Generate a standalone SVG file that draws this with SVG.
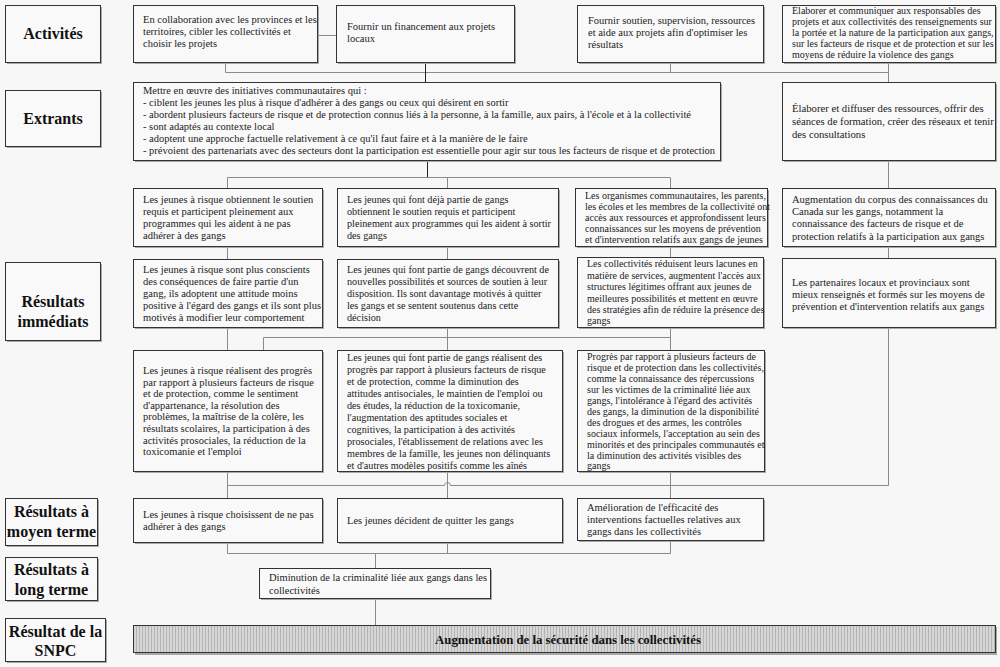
<svg xmlns="http://www.w3.org/2000/svg" width="1000" height="667" viewBox="0 0 1000 667">
<defs>
<style>
.bg{fill:#f7f7f7}
.sh{fill:#a8a8a8}
.bx{fill:#f9f9f9;stroke:#333;stroke-width:1}
.t{font-family:"Liberation Serif","Times New Roman",serif;font-size:10.5px;fill:#222}
.s10{font-size:10px}
.s102{font-size:10.2px}
.s107{font-size:10.7px}
.lb{font-family:"Liberation Serif","Times New Roman",serif;font-size:16px;font-weight:bold;text-anchor:middle;fill:#111}
.c{stroke:#8a8a8a;stroke-width:1;fill:none}
.cd{stroke:#222;stroke-width:1;fill:none}
.bt{font-family:"Liberation Serif","Times New Roman",serif;font-size:12.8px;font-weight:bold;text-anchor:middle;fill:#111}
</style>
<pattern id="hatch" width="3" height="4" patternUnits="userSpaceOnUse">
<rect width="3" height="4" fill="#d6d6d6"/>
<line x1="1.5" y1="0" x2="1.5" y2="4" stroke="#b4b4b4" stroke-width="1"/>
</pattern>
</defs>
<rect class="bg" x="0" y="0" width="1000" height="667"/>

<g id="connectors">
<path class="c" d="M317 35.5H336"/>
<path class="c" d="M225.5 62V72.5H888.5"/>
<path class="cd" d="M425.5 62V82"/>
<path class="c" d="M670.5 62V72.5"/>
<path class="c" d="M888.5 62V82"/>
<path class="cd" d="M427.5 160V177.5"/>
<path class="c" d="M227.5 177.5H670.5"/>
<path class="c" d="M227.5 177.5V188M447.5 177.5V188M670.5 177.5V188"/>
<path class="c" d="M888.5 160V188"/>
<path class="c" d="M227.5 246V259M447.5 246V259M670.5 246V257M888.5 246V258"/>
<path class="c" d="M227.5 327V350M447.5 327V350M670.5 327V350"/>
<path class="c" d="M670.5 337.5H263.5V350"/>
<path class="c" d="M888.5 327V485.5H670.5"/>
<path class="c" d="M227.5 471V485.5H444.5A3 3 0 0 1 450.5 485.5H670.5"/>
<path class="c" d="M227.5 485.5V498"/>
<path class="c" d="M447.5 471V498"/>
<path class="c" d="M670.5 471V498"/>
<path class="c" d="M227.5 542V553.5H670.5M447.5 542V553.5M670.5 540V553.5"/>
<path class="c" d="M375.5 553.5V568"/>
<path class="c" d="M375.5 598V625"/>
</g>

<g id="lbl-activites">
<rect class="sh" x="7" y="7" width="95" height="57"/>
<rect class="bx" x="5.5" y="5.5" width="95" height="57"/>
<text class="lb" x="53" y="39">Activités</text>
</g>
<g id="lbl-extrants">
<rect class="sh" x="7" y="92" width="95" height="56"/>
<rect class="bx" x="5.5" y="90.5" width="95" height="56"/>
<text class="lb" x="53" y="124">Extrants</text>
</g>
<g id="lbl-immediats">
<rect class="sh" x="7" y="264" width="95" height="78"/>
<rect class="bx" x="5.5" y="262.5" width="95" height="78"/>
<text class="lb" x="53" y="307">Résultats</text>
<text class="lb" x="53" y="327">immédiats</text>
</g>
<g id="lbl-moyen">
<rect class="sh" x="7" y="500" width="92" height="47"/>
<rect class="bx" x="5.5" y="498.5" width="92" height="47"/>
<text class="lb" x="51.5" y="517">Résultats à</text>
<text class="lb" x="51.5" y="537">moyen terme</text>
</g>
<g id="lbl-long">
<rect class="sh" x="7" y="559" width="92" height="43"/>
<rect class="bx" x="5.5" y="557.5" width="92" height="43"/>
<text class="lb" x="51.5" y="575">Résultats à</text>
<text class="lb" x="51.5" y="595">long terme</text>
</g>
<g id="lbl-snpc">
<rect class="sh" x="7" y="620" width="100" height="43"/>
<rect class="bx" x="5.5" y="618.5" width="100" height="43"/>
<text class="lb" x="55.5" y="637">Résultat de la</text>
<text class="lb" x="55.5" y="656">SNPC</text>
</g>

<g id="a1">
<rect class="sh" x="135" y="7" width="184" height="57"/>
<rect class="bx" x="133.5" y="5.5" width="184" height="57"/>
<text class="t"><tspan x="143" y="23">En collaboration avec les provinces et les</tspan><tspan x="143" y="35">territoires, cibler les collectivités et</tspan><tspan x="143" y="47">choisir les projets</tspan></text>
</g>
<g id="a2">
<rect class="sh" x="338" y="7" width="178" height="57"/>
<rect class="bx" x="336.5" y="5.5" width="178" height="57"/>
<text class="t"><tspan x="347" y="30">Fournir un financement aux projets</tspan><tspan x="347" y="42">locaux</tspan></text>
</g>
<g id="a3">
<rect class="sh" x="579" y="7" width="186" height="57"/>
<rect class="bx" x="577.5" y="5.5" width="186" height="57"/>
<text class="t"><tspan x="588" y="24">Fournir soutien, supervision, ressources</tspan><tspan x="588" y="36">et aide aux projets afin d'optimiser les</tspan><tspan x="588" y="48">résultats</tspan></text>
</g>
<g id="a4">
<rect class="sh" x="784" y="7" width="213" height="57"/>
<rect class="bx" x="782.5" y="5.5" width="213" height="57"/>
<text class="t s10"><tspan x="792" y="14">Élaborer et communiquer aux responsables des</tspan><tspan x="792" y="25">projets et aux collectivités des renseignements sur</tspan><tspan x="792" y="36">la portée et la nature de la participation aux gangs,</tspan><tspan x="792" y="47">sur les facteurs de risque et de protection et sur les</tspan><tspan x="792" y="58">moyens de réduire la violence des gangs</tspan></text>
</g>

<g id="e1">
<rect class="sh" x="135" y="84" width="587" height="78"/>
<rect class="bx" x="133.5" y="82.5" width="587" height="78"/>
<text class="t"><tspan x="143" y="94">Mettre en œuvre des initiatives communautaires qui :</tspan><tspan x="143" y="106">- ciblent les jeunes les plus à risque d'adhérer à des gangs ou ceux qui désirent en sortir</tspan><tspan x="143" y="118">- abordent plusieurs facteurs de risque et de protection connus liés à la personne, à la famille, aux pairs, à l'école et à la collectivité</tspan><tspan x="143" y="130">- sont adaptés au contexte local</tspan><tspan x="143" y="142">- adoptent une approche factuelle relativement à ce qu'il faut faire et à la manière de le faire</tspan><tspan x="143" y="154">- prévoient des partenariats avec des secteurs dont la participation est essentielle pour agir sur tous les facteurs de risque et de protection</tspan></text>
</g>
<g id="e2">
<rect class="sh" x="784" y="84" width="213" height="78"/>
<rect class="bx" x="782.5" y="82.5" width="213" height="78"/>
<text class="t s107"><tspan x="792" y="112">Élaborer et diffuser des ressources, offrir des</tspan><tspan x="792" y="125">séances de formation, créer des réseaux et tenir</tspan><tspan x="792" y="138">des consultations</tspan></text>
</g>

<g id="r1a">
<rect class="sh" x="135" y="190" width="189" height="58"/>
<rect class="bx" x="133.5" y="188.5" width="189" height="58"/>
<text class="t"><tspan x="143" y="203">Les jeunes à risque obtiennent le soutien</tspan><tspan x="143" y="215">requis et participent pleinement aux</tspan><tspan x="143" y="227">programmes qui les aident à ne pas</tspan><tspan x="143" y="239">adhérer à des gangs</tspan></text>
</g>
<g id="r1b">
<rect class="sh" x="339" y="190" width="221" height="58"/>
<rect class="bx" x="337.5" y="188.5" width="221" height="58"/>
<text class="t s102"><tspan x="347" y="203">Les jeunes qui font déjà partie de gangs</tspan><tspan x="347" y="215">obtiennent le soutien requis et participent</tspan><tspan x="347" y="227">pleinement aux programmes qui les aident à sortir</tspan><tspan x="347" y="239">des gangs</tspan></text>
</g>
<g id="r1c">
<rect class="sh" x="577" y="190" width="192" height="58"/>
<rect class="bx" x="575.5" y="188.5" width="192" height="58"/>
<text class="t s10"><tspan x="585" y="199">Les organismes communautaires, les parents,</tspan><tspan x="585" y="210">les écoles et les membres de la collectivité ont</tspan><tspan x="585" y="221">accès aux ressources et approfondissent leurs</tspan><tspan x="585" y="232">connaissances sur les moyens de prévention</tspan><tspan x="585" y="243">et d'intervention relatifs aux gangs de jeunes</tspan></text>
</g>
<g id="r1d">
<rect class="sh" x="784" y="190" width="213" height="58"/>
<rect class="bx" x="782.5" y="188.5" width="213" height="58"/>
<text class="t"><tspan x="792" y="203">Augmentation du corpus des connaissances du</tspan><tspan x="792" y="215">Canada sur les gangs, notamment la</tspan><tspan x="792" y="227">connaissance des facteurs de risque et de</tspan><tspan x="792" y="240">protection relatifs à la participation aux gangs</tspan></text>
</g>

<g id="r2a">
<rect class="sh" x="135" y="261" width="189" height="68"/>
<rect class="bx" x="133.5" y="259.5" width="189" height="68"/>
<text class="t"><tspan x="143" y="273">Les jeunes à risque sont plus conscients</tspan><tspan x="143" y="285">des conséquences de faire partie d'un</tspan><tspan x="143" y="297">gang, ils adoptent une attitude moins</tspan><tspan x="143" y="309">positive à l'égard des gangs et ils sont plus</tspan><tspan x="143" y="321">motivés à modifier leur comportement</tspan></text>
</g>
<g id="r2b">
<rect class="sh" x="339" y="261" width="221" height="68"/>
<rect class="bx" x="337.5" y="259.5" width="221" height="68"/>
<text class="t s102"><tspan x="347" y="273">Les jeunes qui font partie de gangs découvrent de</tspan><tspan x="347" y="285">nouvelles possibilités et sources de soutien à leur</tspan><tspan x="347" y="297">disposition. Ils sont davantage motivés à quitter</tspan><tspan x="347" y="309">les gangs et se sentent soutenus dans cette</tspan><tspan x="347" y="321">décision</tspan></text>
</g>
<g id="r2c">
<rect class="sh" x="579" y="259" width="186" height="70"/>
<rect class="bx" x="577.5" y="257.5" width="186" height="70"/>
<text class="t s10"><tspan x="587" y="267">Les collectivités réduisent leurs lacunes en</tspan><tspan x="587" y="279">matière de services, augmentent l'accès aux</tspan><tspan x="587" y="290">structures légitimes offrant aux jeunes de</tspan><tspan x="587" y="302">meilleures possibilités et mettent en œuvre</tspan><tspan x="587" y="313">des stratégies afin de réduire la présence des</tspan><tspan x="587" y="324">gangs</tspan></text>
</g>
<g id="r2d">
<rect class="sh" x="784" y="260" width="213" height="69"/>
<rect class="bx" x="782.5" y="258.5" width="213" height="69"/>
<text class="t"><tspan x="792" y="286">Les partenaires locaux et provinciaux sont</tspan><tspan x="792" y="298">mieux renseignés et formés sur les moyens de</tspan><tspan x="792" y="310">prévention et d'intervention relatifs aux gangs</tspan></text>
</g>

<g id="r3a">
<rect class="sh" x="135" y="352" width="189" height="121"/>
<rect class="bx" x="133.5" y="350.5" width="189" height="121"/>
<text class="t"><tspan x="143" y="374">Les jeunes à risque réalisent des progrès</tspan><tspan x="143" y="386">par rapport à plusieurs facteurs de risque</tspan><tspan x="143" y="397">et de protection, comme le sentiment</tspan><tspan x="143" y="409">d'appartenance, la résolution des</tspan><tspan x="143" y="420">problèmes, la maîtrise de la colère, les</tspan><tspan x="143" y="432">résultats scolaires, la participation à des</tspan><tspan x="143" y="444">activités prosociales, la réduction de la</tspan><tspan x="143" y="455">toxicomanie et l'emploi</tspan></text>
</g>
<g id="r3b">
<rect class="sh" x="339" y="352" width="225" height="121"/>
<rect class="bx" x="337.5" y="350.5" width="225" height="121"/>
<text class="t s102"><tspan x="347" y="361">Les jeunes qui font partie de gangs réalisent des</tspan><tspan x="347" y="373">progrès par rapport à plusieurs facteurs de risque</tspan><tspan x="347" y="385">et de protection, comme la diminution des</tspan><tspan x="347" y="397">attitudes antisociales, le maintien de l'emploi ou</tspan><tspan x="347" y="409">des études, la réduction de la toxicomanie,</tspan><tspan x="347" y="421">l'augmentation des aptitudes sociales et</tspan><tspan x="347" y="433">cognitives, la participation à des activités</tspan><tspan x="347" y="445">prosociales, l'établissement de relations avec les</tspan><tspan x="347" y="457">membres de la famille, les jeunes non délinquants</tspan><tspan x="347" y="469">et d'autres modèles positifs comme les aînés</tspan></text>
</g>
<g id="r3c">
<rect class="sh" x="579" y="352" width="187" height="121"/>
<rect class="bx" x="577.5" y="350.5" width="187" height="121"/>
<text class="t s10"><tspan x="587" y="360">Progrès par rapport à plusieurs facteurs de</tspan><tspan x="587" y="371">risque et de protection dans les collectivités,</tspan><tspan x="587" y="382">comme la connaissance des répercussions</tspan><tspan x="587" y="393">sur les victimes de la criminalité liée aux</tspan><tspan x="587" y="404">gangs, l'intolérance à l'égard des activités</tspan><tspan x="587" y="415">des gangs, la diminution de la disponibilité</tspan><tspan x="587" y="426">des drogues et des armes, les contrôles</tspan><tspan x="587" y="437">sociaux informels, l'acceptation au sein des</tspan><tspan x="587" y="448">minorités et des principales communautés et</tspan><tspan x="587" y="459">la diminution des activités visibles des</tspan><tspan x="587" y="469">gangs</tspan></text>
</g>

<g id="r4a">
<rect class="sh" x="135" y="500" width="189" height="44"/>
<rect class="bx" x="133.5" y="498.5" width="189" height="44"/>
<text class="t"><tspan x="143" y="518">Les jeunes à risque choisissent de ne pas</tspan><tspan x="143" y="530">adhérer à des gangs</tspan></text>
</g>
<g id="r4b">
<rect class="sh" x="339" y="500" width="225" height="44"/>
<rect class="bx" x="337.5" y="498.5" width="225" height="44"/>
<text class="t"><tspan x="347" y="524">Les jeunes décident de quitter les gangs</tspan></text>
</g>
<g id="r4c">
<rect class="sh" x="579" y="500" width="186" height="42"/>
<rect class="bx" x="577.5" y="498.5" width="186" height="42"/>
<text class="t"><tspan x="587" y="511">Amélioration de l'efficacité des</tspan><tspan x="587" y="523">interventions factuelles relatives aux</tspan><tspan x="587" y="535">gangs dans les collectivités</tspan></text>
</g>

<g id="r5">
<rect class="sh" x="261" y="570" width="231" height="30"/>
<rect class="bx" x="259.5" y="568.5" width="231" height="30"/>
<text class="t"><tspan x="269" y="581">Diminution de la criminalité liée aux gangs dans les</tspan><tspan x="269" y="594">collectivités</tspan></text>
</g>

<g id="snpc">
<rect class="sh" x="135" y="627" width="862" height="28"/>
<rect x="133.5" y="625.5" width="862" height="27" fill="url(#hatch)" stroke="#333" stroke-width="1"/>
<text class="bt" x="568" y="644">Augmentation de la sécurité dans les collectivités</text>
</g>
</svg>
